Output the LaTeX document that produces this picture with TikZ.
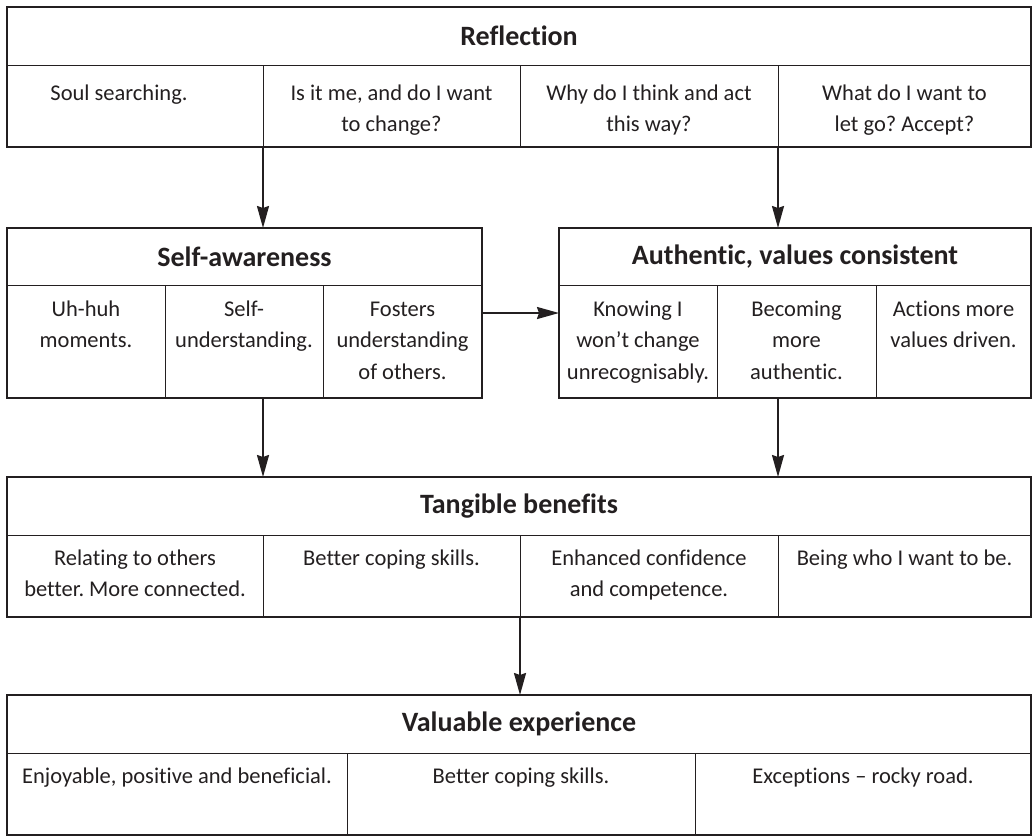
\documentclass[tikz,border=0pt]{standalone}
\usepackage{fontspec}
\setmainfont{Carlito}[Ligatures=NoCommon]
\usetikzlibrary{arrows.meta,calc}
\definecolor{ink}{HTML}{231F20}
\frenchspacing
\newcommand\txtfont{\fontsize{22.5}{31.5}\selectfont}
\newcommand\hdrfont{\bfseries\fontsize{28}{32}\selectfont}
% name, x1, y1, x2, y2
\newcommand\mkcell[5]{\node[cellst, minimum width={(#4-#2)*1pt}, minimum height={(#5-#3)*1pt}] (#1) at (#2,#3) {};}
% name, x1, y1, x2, y2, text
\newcommand\mkhead[6]{\node[cellst, font=\hdrfont, minimum width={(#4-#2)*1pt}, minimum height={(#5-#3)*1pt}] (#1) at (#2,#3) {#6};}
\newcommand\mkbox[5]{\node[boxst, minimum width={(#4-#2)*1pt}, minimum height={(#5-#3)*1pt}] (#1) at (#2,#3) {};}
% cell, down offset, x shift, text
\newcommand\celltext[4]{\node[txt] at ($(#1.north)+(#3,#2)$) {\strut #4};}
\tikzset{
  cellst/.style={draw=ink, line width=0.9pt, inner sep=0pt, outer sep=0pt, anchor=north west, text=ink},
  boxst/.style={draw=ink, line width=2pt, inner sep=0pt, outer sep=0pt, anchor=north west},
  txt/.style={font=\txtfont, align=center, text=ink, anchor=north, inner sep=0pt},
  arr/.style={draw=ink, line width=2pt, -{Stealth[length=22pt,width=12pt,inset=2pt]}}
}
\begin{document}
\begin{tikzpicture}[x=1pt,y=-1pt]
\useasboundingbox (0,0) rectangle (1033,836);
% Reflection
\mkhead{RH}{7}{7}{1031}{65}{Reflection}
\mkcell{R1}{7}{65}{263}{147}
\mkcell{R2}{263}{65}{520}{147}
\mkcell{R3}{520}{65}{778}{147}
\mkcell{R4}{778}{65}{1031}{147}
\mkbox{R}{7}{7}{1031}{147}
\celltext{R1}{13}{-16}{Soul searching.}
\celltext{R2}{13}{0}{Is it me, and do I want\\to change?}
\celltext{R3}{13}{0}{Why do I think and act\\this way?}
\celltext{R4}{13}{0}{What do I want to\\let go? Accept?}
% Self-awareness
\mkhead{SH}{7}{228}{482}{285}{Self-awareness}
\mkcell{S1}{7}{285}{165}{398}
\mkcell{S2}{165}{285}{323}{398}
\mkcell{S3}{323}{285}{482}{398}
\mkbox{S}{7}{228}{482}{398}
\celltext{S1}{9}{0}{Uh-huh\\moments.}
\celltext{S2}{9}{0}{Self-\\understanding.}
\celltext{S3}{9}{0}{Fosters\\understanding\\of others.}
% Authentic
\mkhead{AH}{559}{228}{1031}{285}{Authentic, values consistent}
\mkcell{A1}{559}{285}{717}{398}
\mkcell{A2}{717}{285}{876}{398}
\mkcell{A3}{876}{285}{1031}{398}
\mkbox{A}{559}{228}{1031}{398}
\celltext{A1}{9}{0}{Knowing I\\won’t change\\unrecognisably.}
\celltext{A2}{9}{0}{Becoming\\more\\authentic.}
\celltext{A3}{9}{0}{Actions more\\values driven.}
% Tangible benefits
\mkhead{TH}{7}{477}{1031}{535}{Tangible benefits}
\mkcell{T1}{7}{535}{263}{617}
\mkcell{T2}{263}{535}{520}{617}
\mkcell{T3}{520}{535}{778}{617}
\mkcell{T4}{778}{535}{1031}{617}
\mkbox{T}{7}{477}{1031}{617}
\celltext{T1}{8}{0}{Relating to others\\better. More connected.}
\celltext{T2}{8}{0}{Better coping skills.}
\celltext{T3}{8}{0}{Enhanced confidence\\and competence.}
\celltext{T4}{8}{0}{Being who I want to be.}
% Valuable experience
\mkhead{VH}{7}{695}{1031}{753}{Valuable experience}
\mkcell{V1}{7}{753}{347}{835}
\mkcell{V2}{347}{753}{695}{835}
\mkcell{V3}{695}{753}{1031}{835}
\mkbox{V}{7}{695}{1031}{835}
\celltext{V1}{8}{0}{Enjoyable, positive and beneficial.}
\celltext{V2}{8}{0}{Better coping skills.}
\celltext{V3}{8}{0}{Exceptions – rocky road.}
% connectors
\draw[arr] (R1.south east) -- (R1.south east |- S.north);
\draw[arr] (R3.south east) -- (R3.south east |- A.north);
\draw[arr] (S.east) -- (A.west);
\draw[arr] (R1.south east |- S.south) -- (R1.south east |- T.north);
\draw[arr] (R3.south east |- A.south) -- (R3.south east |- T.north);
\draw[arr] (T2.south east) -- (T2.south east |- V.north);
\end{tikzpicture}
\end{document}
